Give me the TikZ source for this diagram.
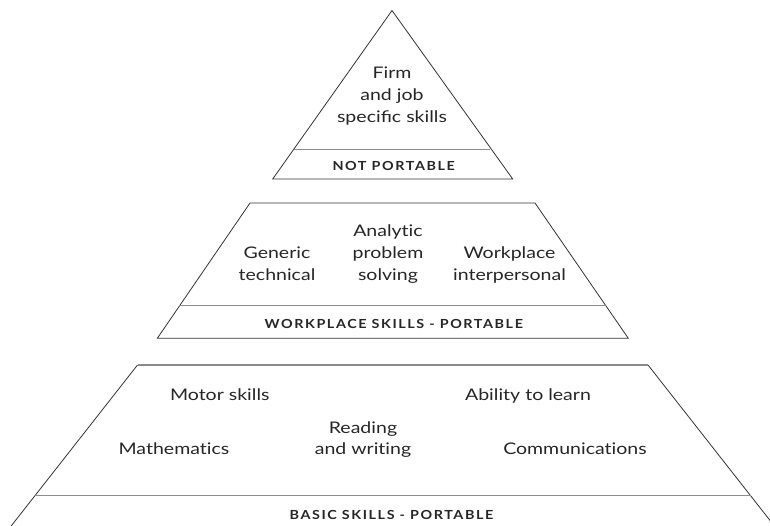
\documentclass[tikz,border=0pt]{standalone}
\usepackage{fontspec}
\setmainfont{Lato}[FakeStretch=1.22]
\newfontfamily\capsfont{Lato}[FakeStretch=1.15,LetterSpace=12.5]
\newcommand{\nolig}{\kern0pt{}}
\begin{document}
\begin{tikzpicture}[x=1pt,y=-1pt,
  edge/.style={draw=black!80, line width=0.8pt, line join=miter},
  divider/.style={draw=black!45, line width=1.4pt},
  body/.style={font=\fontsize{16}{21.7}\selectfont, text=black!85, align=center, inner sep=0pt},
  caps/.style={font=\capsfont\bfseries\fontsize{12.5}{14}\selectfont, text=black!85, inner sep=0pt, anchor=base}]
\useasboundingbox (0,0) rectangle (770,525);
\clip (0,0) rectangle (770,525);
% top triangle
\coordinate (tA) at (392,10.5);
\coordinate (tL) at (272.7,179);
\coordinate (tR) at (512.7,179);
\coordinate (tdL) at (293.6,149.3);
\coordinate (tdR) at (490.4,149.3);
\draw[edge] (tA) -- (tR) -- (tL) -- cycle;
\draw[divider] (tdL) -- (tdR);
% middle trapezoid
\coordinate (mTL) at (250,203);
\coordinate (mTR) at (535,203);
\coordinate (mBR) at (628.3,338.3);
\coordinate (mBL) at (157.3,338.3);
\coordinate (mdL) at (179.3,305.7);
\coordinate (mdR) at (605.6,305.7);
\draw[edge] (mTL) -- (mTR) -- (mBR) -- (mBL) -- cycle;
\draw[divider] (mdL) -- (mdR);
% bottom trapezoid
\coordinate (bTL) at (137.5,365);
\coordinate (bTR) at (648,365);
\coordinate (bBL) at (8,530);
\coordinate (bBR) at (777.5,530);
\coordinate (bdL) at (34.9,495.7);
\coordinate (bdR) at (750.6,495.7);
\draw[edge] (bBL) -- (bTL);
\draw[edge] (bTR) -- (bBR);
\draw[divider] (bTL) -- (bTR);
\draw[divider] (bdL) -- (bdR);
% texts
\node[body] (firm) at (392,96) {Firm\\and job\\specific skills};
\node[caps] (notp) at (393.7,170.7) {NOT PORTABLE};
\node[body] (gen) at (277,263.4) {Generic\\technical};
\node[body] (ana) at (388,254) {Analyt\nolig ic\\problem\\solving};
\node[body] (work) at (509.5,265) {Workplace\\interpersonal};
\node[caps] (wsp) at (393.8,328.3) {WORKPLACE SKILLS - PORTABLE};
\node[body, anchor=base] (motor) at (219.8,400.7) {Motor skills};
\node[body, anchor=base] (abil) at (528,400.7) {Ability to learn};
\node[body] (read) at (363,439.7) {Reading\\and writ\nolig ing};
\node[body, anchor=base] (math) at (174,454) {Mathemat\nolig ics};
\node[body, anchor=base] (comm) at (575,454) {Communicat\nolig ions};
\node[caps] (bsp) at (391.5,519.3) {BASIC SKILLS - PORTABLE};
\end{tikzpicture}
\end{document}
